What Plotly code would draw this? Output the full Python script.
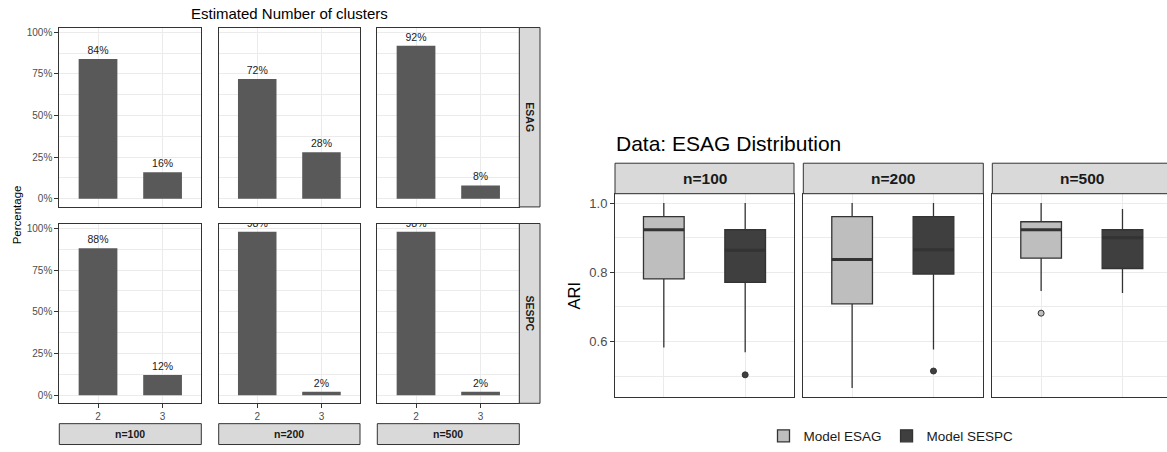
import plotly.graph_objects as go

# ---- data -------------------------------------------------------------
sample_sizes = ["n=100", "n=200", "n=500"]
cluster_labels = ["2", "3"]
models = ["ESAG", "SESPC"]

# percentage of runs estimating 2 / 3 clusters, per sample size
esag_pct = [[84, 16], [72, 28], [92, 8]]
sespc_pct = [[88, 12], [98, 2], [98, 2]]

# ARI box statistics per sample size
esag_lo = [0.583, 0.466, 0.746]
esag_q1 = [0.781, 0.709, 0.841]
esag_med = [0.923, 0.837, 0.923]
esag_q3 = [0.961, 0.961, 0.946]
esag_hi = [1.0, 1.0, 1.0]
esag_out = [[], [], [0.682]]

sespc_lo = [0.569, 0.577, 0.740]
sespc_q1 = [0.771, 0.795, 0.811]
sespc_med = [0.864, 0.865, 0.900]
sespc_q3 = [0.923, 0.961, 0.923]
sespc_hi = [1.0, 1.0, 0.983]
sespc_out = [[0.504], [0.515], []]

# ---- layout helpers ---------------------------------------------------
W, H = 1167, 452
FONT = "Liberation Sans, Arial, Helvetica, sans-serif"
BORDER = "#333333"
GRID = "#EBEBEB"
STRIP = "#D9D9D9"
TICKTXT = "#4D4D4D"


def px(x):
    return x / W


def py(y):
    return 1 - y / H


def label(text, x, y, size, angle=0, xanchor="center", color="#1A1A1A"):
    return dict(text=text, xref="paper", yref="paper", x=px(x), y=py(y),
                xanchor=xanchor, yanchor="middle", showarrow=False,
                textangle=angle, font=dict(size=size, color=color))


fig = go.Figure()
layout = dict(
    width=W, height=H, autosize=False,
    margin=dict(l=0, r=0, t=0, b=0),
    paper_bgcolor="white", plot_bgcolor="white",
    font=dict(family=FONT, color="#1A1A1A"),
    showlegend=True,
    shapes=[], annotations=[],
)

# ---- left: bar facets (rows = model, cols = sample size) -------------
left_cols = [(59.3, 201.3), (218.7, 360.0), (377.3, 519.3)]
left_rows = [(27.7, 208.3), (225.0, 406.0)]
pct_by_model = [esag_pct, sespc_pct]

for r, (y0, y1) in enumerate(left_rows):
    for c, (x0, x1) in enumerate(left_cols):
        k = r * 3 + c + 1
        layout[f"xaxis{k}"] = dict(
            domain=[px(x0), px(x1)], anchor=f"y{k}", range=[0.4, 2.6],
            tickvals=[1, 2], ticktext=cluster_labels,
            showticklabels=(r == 1), ticks="outside" if r == 1 else "",
            ticklen=4, tickcolor=BORDER, tickwidth=1,
            tickfont=dict(size=10, color=TICKTXT),
            showgrid=True, gridcolor=GRID, gridwidth=1,
            showline=True, linecolor=BORDER, linewidth=1, mirror=True,
            zeroline=False, fixedrange=True,
        )
        layout[f"yaxis{k}"] = dict(
            domain=[py(y1), py(y0)], anchor=f"x{k}", range=[-4.9, 102.9],
            tickvals=[0, 25, 50, 75, 100],
            ticktext=["0%", "25%", "50%", "75%", "100%"],
            showticklabels=(c == 0), ticks="outside" if c == 0 else "",
            ticklen=4, tickcolor=BORDER, tickwidth=1,
            tickfont=dict(size=10, color=TICKTXT),
            showgrid=True, gridcolor=GRID, gridwidth=1,
            minor=dict(tickvals=[12.5, 37.5, 62.5, 87.5], showgrid=True,
                       gridcolor=GRID, gridwidth=0.5),
            showline=True, linecolor=BORDER, linewidth=1, mirror=True,
            zeroline=False, fixedrange=True,
        )
        vals = pct_by_model[r][c]
        fig.add_trace(go.Bar(
            x=[1, 2], y=vals, width=0.6,
            marker=dict(color="#595959", line=dict(width=0)),
            text=[f"{v}%" for v in vals], textposition="outside",
            textfont=dict(size=10.5, color="#1A1A1A"),
            constraintext="none", cliponaxis=True,
            xaxis=f"x{k}", yaxis=f"y{k}", showlegend=False, hoverinfo="skip",
        ))

# right-hand strips (model)
for r, (y0, y1) in enumerate(left_rows):
    layout["shapes"].append(dict(
        type="rect", xref="paper", yref="paper",
        x0=px(519.3), x1=px(540.0), y0=py(y1), y1=py(y0),
        fillcolor=STRIP, line=dict(color=BORDER, width=1), layer="above"))
    layout["annotations"].append(
        label(f"<b>{models[r]}</b>", 529.9, (y0 + y1) / 2, 10.5, angle=90))

# bottom strips (sample size)
for c, (x0, x1) in enumerate(left_cols):
    layout["shapes"].append(dict(
        type="rect", xref="paper", yref="paper",
        x0=px(x0), x1=px(x1), y0=py(447.5), y1=py(426.5),
        fillcolor=STRIP, line=dict(color=BORDER, width=1)))
    layout["annotations"].append(
        label(f"<b>{sample_sizes[c]}</b>", (x0 + x1) / 2, 437.2, 10.5))

layout["annotations"].append(
    label("Estimated Number of clusters", 289.3, 13.5, 15, color="#000000"))
layout["annotations"].append(
    label("Percentage", 17, 216.8, 11.5, angle=-90, color="#000000"))

# ---- right: ARI boxplots per sample size ------------------------------
right_cols = [(615.0, 794.0), (803.3, 983.3), (992.3, 1171.6)]
ry0, ry1 = 195.0, 400.0
unit = (794.0 - 615.0) / 2.2
BOX_W = 0.5
fills = ["#BEBEBE", "#3F3F3F"]
stats = [
    (esag_lo, esag_q1, esag_med, esag_q3, esag_hi, esag_out),
    (sespc_lo, sespc_q1, sespc_med, sespc_q3, sespc_hi, sespc_out),
]

for c, (x0, x1) in enumerate(right_cols):
    k = 7 + c
    vis_x1 = min(x1, W)
    xmax = 0.4 + (vis_x1 - x0) / unit
    layout[f"xaxis{k}"] = dict(
        domain=[px(x0), px(vis_x1)], anchor=f"y{k}", range=[0.4, xmax],
        tickvals=[1, 2], showticklabels=False, ticks="",
        showgrid=True, gridcolor=GRID, gridwidth=1,
        showline=True, linecolor=BORDER, linewidth=1, mirror=True,
        zeroline=False, fixedrange=True,
    )
    layout[f"yaxis{k}"] = dict(
        domain=[py(ry1), py(ry0)], anchor=f"x{k}", range=[0.439, 1.027],
        tickvals=[0.6, 0.8, 1.0], ticktext=["0.6", "0.8", "1.0"],
        showticklabels=(c == 0), ticks="outside" if c == 0 else "",
        ticklen=4, tickcolor=BORDER, tickwidth=1,
        tickfont=dict(size=13, color=TICKTXT),
        showgrid=True, gridcolor=GRID, gridwidth=1,
        minor=dict(tickvals=[0.5, 0.7, 0.9], showgrid=True,
                   gridcolor=GRID, gridwidth=0.5),
        showline=True, linecolor=BORDER, linewidth=1,
        mirror=(x1 <= W), zeroline=False, fixedrange=True,
    )
    for m in range(2):
        lo, q1, med, q3, hi, out = stats[m]
        xpos = m + 1
        fig.add_trace(go.Box(
            x=[xpos], q1=[q1[c]], median=[med[c]], q3=[q3[c]],
            lowerfence=[lo[c]], upperfence=[hi[c]], width=BOX_W,
            fillcolor=fills[m], line=dict(color=BORDER, width=1.3),
            whiskerwidth=0, boxpoints=False,
            name=f"Model {models[m]}", legendgroup=models[m],
            showlegend=(c == 0), xaxis=f"x{k}", yaxis=f"y{k}",
            hoverinfo="skip",
        ))
        # thicker median bar
        fig.add_trace(go.Scatter(
            x=[xpos - BOX_W / 2, xpos + BOX_W / 2], y=[med[c], med[c]],
            mode="lines", line=dict(color=BORDER, width=3),
            xaxis=f"x{k}", yaxis=f"y{k}", showlegend=False, hoverinfo="skip",
        ))
        if out[c]:
            fig.add_trace(go.Scatter(
                x=[xpos] * len(out[c]), y=out[c], mode="markers",
                marker=dict(size=6, color=fills[m],
                            line=dict(color=BORDER, width=1)),
                xaxis=f"x{k}", yaxis=f"y{k}", showlegend=False,
                hoverinfo="skip",
            ))
    layout["shapes"].append(dict(
        type="rect", xref="paper", yref="paper",
        x0=px(x0), x1=px(x1), y0=py(ry0), y1=py(164.3),
        fillcolor=STRIP, line=dict(color=BORDER, width=1)))
    layout["annotations"].append(
        label(f"<b>{sample_sizes[c]}</b>", (x0 + x1) / 2, 179.8, 15.5))

layout["annotations"].append(
    label("Data: ESAG Distribution", 614, 144, 21, xanchor="left",
          color="#000000"))
layout["annotations"].append(
    label("ARI", 574, 297.5, 16.5, angle=-90, color="#000000"))

layout["legend"] = dict(
    orientation="h", x=px(891), xanchor="center", y=py(439),
    yanchor="middle", font=dict(size=13.5, color="#1A1A1A"),
    bgcolor="rgba(0,0,0,0)", itemwidth=30, traceorder="normal",
)

fig.update_layout(**layout)
fig.write_html("out.html")
